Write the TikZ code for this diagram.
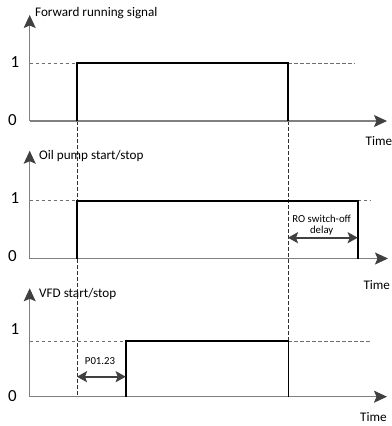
\documentclass[tikz,border=0pt]{standalone}
\usepackage{fontspec}
\setmainfont{Carlito}
\usetikzlibrary{arrows.meta}
\definecolor{axisgray}{HTML}{808080}
\definecolor{headgray}{HTML}{404040}
\definecolor{levelgray}{HTML}{6E6E6E}
\definecolor{vertgray}{HTML}{303030}
\tikzset{
  axisline/.style={draw=axisgray, line width=1.2bp, -{Stealth[length=13bp,width=12bp,inset=2.5bp,color=headgray]}},
  pulse/.style={draw=black, line width=1.6bp, line join=miter},
  levelguide/.style={draw=levelgray, line width=0.8bp, dash pattern=on 3.5bp off 2.5bp},
  vertguide/.style={draw=vertgray, line width=0.7bp, dash pattern=on 3.5bp off 2.5bp},
  delayarrow/.style={draw=headgray, line width=2.4bp, {Stealth[length=10bp,width=11bp,inset=2bp]}-{Stealth[length=10bp,width=11bp,inset=2bp]}},
  sig/.style={font=\fontsize{13.2}{15}\selectfont, anchor=west, inner sep=0pt, text=black},
  lvl/.style={font=\fontsize{17}{19}\selectfont, inner sep=0pt, text=black},
  smalltext/.style={font=\fontsize{10.8}{12}\selectfont, inner sep=0pt, text=black},
}
\begin{document}
\begin{tikzpicture}[x=1bp,y=-1bp]
\useasboundingbox (0,0) rectangle (392,426);
% ---------- coordinates ----------
% panel 1
\coordinate (o1) at (29.7,121);
\coordinate (t1) at (29.7,15);
\coordinate (e1) at (387,121);
\coordinate (l1s) at (29.7,63);
\coordinate (r1b) at (77,121);
\coordinate (r1t) at (77,63);
\coordinate (f1t) at (288,63);
\coordinate (f1b) at (288,121);
\coordinate (l1e) at (355,63);
% panel 2
\coordinate (o2) at (29.7,258.5);
\coordinate (t2) at (29.7,150.7);
\coordinate (e2) at (388,258.5);
\coordinate (l2s) at (29.7,200.7);
\coordinate (r2b) at (77,258.5);
\coordinate (r2t) at (77,200.7);
\coordinate (f2t) at (357.7,200.7);
\coordinate (f2b) at (357.7,258.5);
\coordinate (l2e) at (370,200.7);
\coordinate (d2a) at (288,237.7);
\coordinate (d2b) at (357.7,237.7);
% panel 3
\coordinate (o3) at (29.7,396.7);
\coordinate (t3) at (29.7,288.3);
\coordinate (e3) at (387,396.7);
\coordinate (l3s) at (29.7,341);
\coordinate (r3b) at (125.7,396.7);
\coordinate (r3t) at (125.7,341);
\coordinate (f3t) at (288.3,341);
\coordinate (f3b) at (288.3,396.7);
\coordinate (l3e) at (370.7,341);
\coordinate (d3a) at (77,376.7);
\coordinate (d3b) at (125.7,376.7);
% vertical guides
\coordinate (va) at (77,121);
\coordinate (vaend) at (77,396.7);
\coordinate (vb) at (288,121);
\coordinate (vbend) at (288,341);

% ---------- guides ----------
\draw[vertguide] (va) -- (vaend);
\draw[vertguide] (vb) -- (vbend);
\draw[levelguide] (l1s) -- (r1t);
\draw[levelguide] (f1t) -- (l1e);
\draw[levelguide] (l2s) -- (r2t);
\draw[levelguide] (f2t) -- (l2e);
\draw[levelguide] (l3s) -- (r3t);
\draw[levelguide] (f3t) -- (l3e);

% ---------- axes ----------
\draw[axisline] (o1) -- (t1);
\draw[axisline] (o1) -- (e1);
\draw[axisline] (o2) -- (t2);
\draw[axisline] (o2) -- (e2);
\draw[axisline] (o3) -- (t3);
\draw[axisline] (o3) -- (e3);

% ---------- pulses ----------
\draw[pulse] (r1b) -- (r1t) -- (f1t) -- (f1b);
\draw[pulse] (r2b) -- (r2t) -- (f2t) -- (f2b);
\draw[pulse] (r3b) -- (r3t) -- (f3t) -- (f3b);

% ---------- delays ----------
\draw[delayarrow] (d2a) -- (d2b);
\draw[delayarrow] (d3a) -- (d3b);

% ---------- texts ----------
\node[sig] (s1) at (35,12.7) {Forward running signal};
\node[sig] (s2) at (39,155.7) {Oil pump start/stop};
\node[sig] (s3) at (39,294) {VFD start/stop};
\node[lvl] (one1) at (15,62) {1};
\node[lvl] (zero1) at (12.5,120) {0};
\node[lvl] (one2) at (15,198) {1};
\node[lvl] (zero2) at (12.5,256) {0};
\node[lvl] (one3) at (15,329.3) {1};
\node[lvl] (zero3) at (12.5,396) {0};
\node[sig] (time1) at (365.5,141.5) {Time};
\node[sig] (time2) at (363.3,285) {Time};
\node[sig] (time3) at (360,416.7) {Time};
\node[smalltext] (ro1) at (321.7,219) {RO switch-off};
\node[smalltext] (ro2) at (321.7,230.7) {delay};
\node[smalltext] (p0123) at (100,361) {P01.23};
\end{tikzpicture}
\end{document}
